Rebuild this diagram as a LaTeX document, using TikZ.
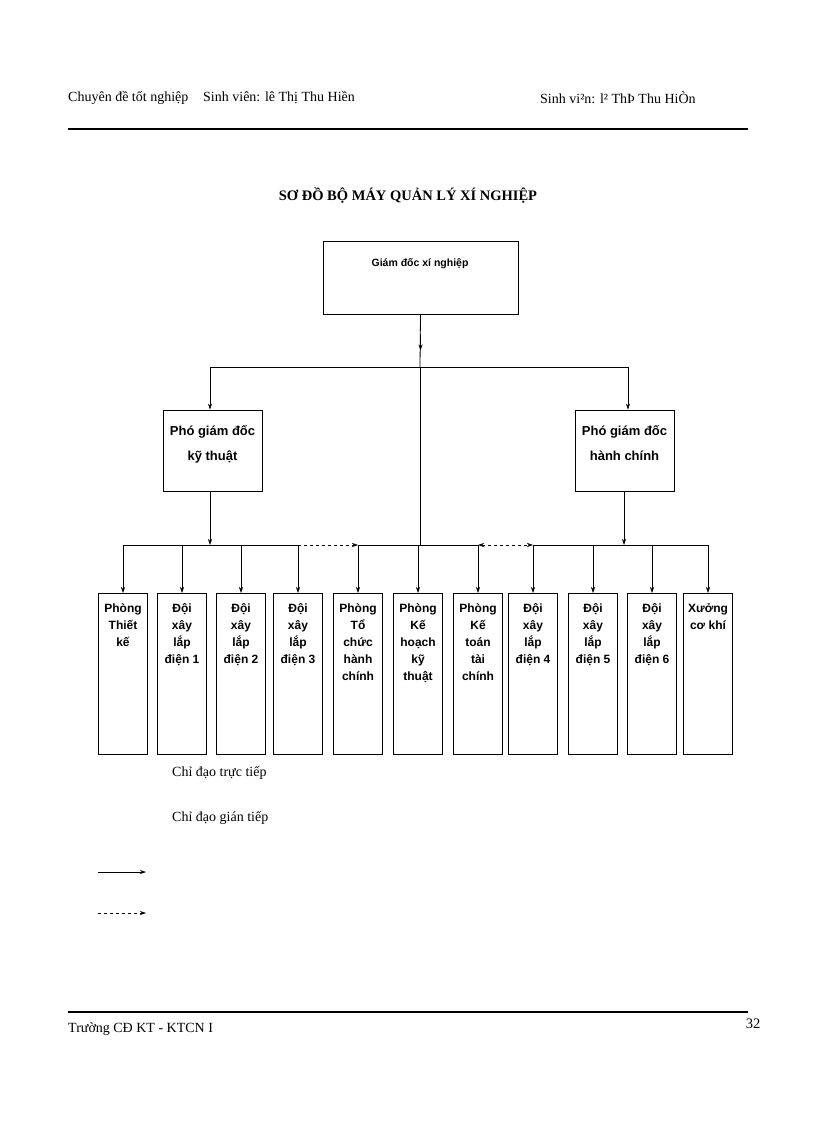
\documentclass[tikz,border=0pt]{standalone}
\usepackage{fontspec}
\setmainfont{Liberation Serif}
\newfontfamily\boxfont{Liberation Sans}
\usetikzlibrary{arrows.meta}
\begin{document}
\begin{tikzpicture}[x=1pt,y=-1pt,
  arr/.style={-{Stealth[length=6pt,width=4pt]},line width=0.6pt},
  ln/.style={line width=0.8pt},
  bx/.style={draw,line width=0.9pt,minimum width=49pt,minimum height=161pt,anchor=north,inner sep=0pt},
  vp/.style={draw,line width=0.9pt,minimum width=99pt,minimum height=81pt,inner sep=0pt},
  bt/.style={font=\boxfont\bfseries\fontsize{12}{17}\selectfont,align=center,anchor=north,inner sep=0pt},
  vt/.style={font=\boxfont\bfseries\fontsize{13}{25}\selectfont,align=center,anchor=north,inner sep=0pt},
  hd/.style={font=\fontsize{14}{17}\selectfont,anchor=west,inner sep=0pt}]
\useasboundingbox (0,0) rectangle (816,1123);
\node[hd] (h1) at (68,98) {Chuyên đề tốt nghiệp};
\node[hd] (h2) at (203,98) {Sinh viên: lê Thị Thu Hiền};
\node[hd] (h3) at (540,98) {Sinh vi²n: l² ThÞ Thu HiÒn};
\draw[line width=2.5pt] (68,129) coordinate (l1) -- (748,129) coordinate (l2);
\node[font=\bfseries\fontsize{14.5}{16}\selectfont] (title) at (408,195) {SƠ ĐỒ BỘ MÁY QUẢN LÝ XÍ NGHIỆP};
\node[draw,line width=0.9pt,minimum width=195pt,minimum height=73pt,inner sep=0pt] (gd) at (420.5,277.5) {};
\node[font=\boxfont\bfseries\fontsize{10.5}{12}\selectfont] (gdt) at (420,264) {Giám đốc xí nghiệp};
\node[vp] (vp1) at (212.5,450.5) {};
\node[vt] (vp1t) at (212.5,425) {Phó giám đốc\\kỹ thuật};
\node[vp] (vp2) at (624.5,450.5) {};
\node[vt] (vp2t) at (624.5,425) {Phó giám đốc\\hành chính};
% top bus
\coordinate (tb) at (420,367);
\coordinate (tbl) at (210,367);
\coordinate (tbr) at (628,367);
\draw[arr] (gd.south) ++(0,20) -- ++(0,16);
\draw[ln] (gd.south) -- (tb);
\draw[ln] (tbl) -- (tbr);
\draw[arr] (tbl) -- (tbl|-vp1.north);
\draw[arr] (tbr) -- (tbr|-vp2.north);
% lower bus
\coordinate (c1) at (123,545);
\coordinate (c4) at (298,545);
\coordinate (c5) at (358,545);
\coordinate (c7) at (478,545);
\coordinate (c8) at (533,545);
\coordinate (c11) at (708,545);
\draw[ln] (tb) -- (420,545);
\draw[ln] (c1) -- (c4);
\draw[ln] (c5) -- (c7);
\draw[ln] (c8) -- (c11);
\draw[arr,dashed] (c4) -- (c5);
\draw[arr,dashed,{Stealth[length=6pt,width=4pt]}-{Stealth[length=6pt,width=4pt]}] (c7) -- (c8);
\draw[arr] (vp1.south-|210,0) -- (210,545);
\draw[arr] (vp2.south-|624,0) -- (624,545);
% boxes
\foreach \i/\x/\t in {1/123/{Phòng\\Thiết\\kế},2/182/{Đội\\xây\\lắp\\điện 1},3/241/{Đội\\xây\\lắp\\điện 2},4/298/{Đội\\xây\\lắp\\điện 3},5/358/{Phòng\\Tổ\\chức\\hành\\chính},6/418/{Phòng\\Kế\\hoạch\\kỹ\\thuật},7/478/{Phòng\\Kế\\toán\\tài\\chính},8/533/{Đội\\xây\\lắp\\điện 4},9/593/{Đội\\xây\\lắp\\điện 5},10/652/{Đội\\xây\\lắp\\điện 6},11/708/{Xưởng\\cơ khí}}{
  \node[bx] (b\i) at (\x,593) {};
  \node[bt] (t\i) at (\x,603) {\t};
  \draw[arr] (\x,545) -- (b\i.north);
}
% legend
\node[hd] (lg1) at (172,773) {Chỉ đạo trực tiếp};
\node[hd] (lg2) at (172,818) {Chỉ đạo gián tiếp};
\coordinate (a1) at (98,872); \coordinate (a2) at (146,872);
\coordinate (d1) at (98,913); \coordinate (d2) at (146,913);
\draw[arr] (a1) -- (a2);
\draw[arr,dashed] (d1) -- (d2);
% footer
\draw[line width=2.5pt] (68,1012) coordinate (f1) -- (748,1012) coordinate (f2);
\node[hd] (ft) at (68,1029) {Trường CĐ KT - KTCN I};
\node[font=\fontsize{14.5}{16}\selectfont] (pg) at (753,1024) {32};
\end{tikzpicture}
\end{document}
